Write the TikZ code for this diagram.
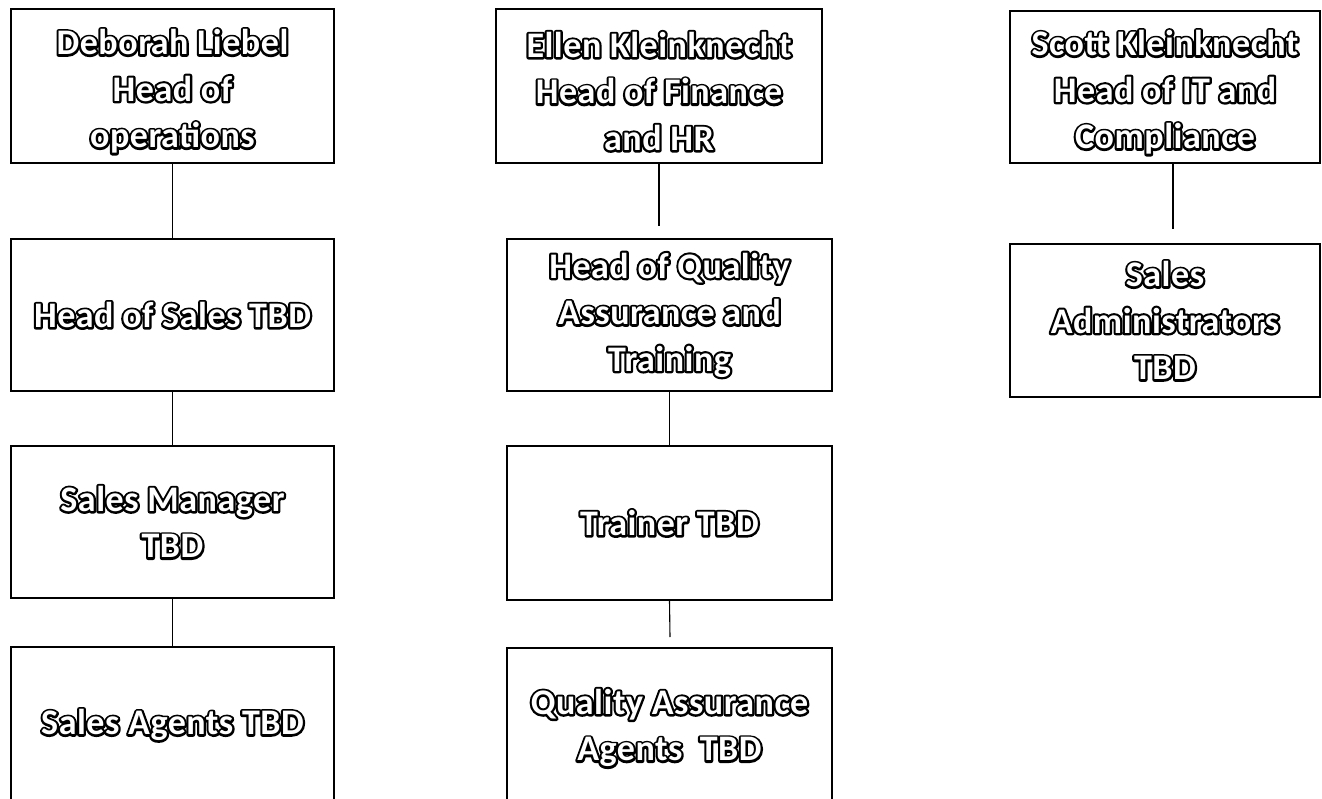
\documentclass[tikz,border=0pt]{standalone}
\usepackage{fontspec}
\setmainfont{Carlito}[LetterSpace=1.5]
\newcommand{\olt}[1]{\rlap{\special{pdf:literal direct 2 Tr 4.4 w 0 G 0 g 1 J 1 j}#1\special{pdf:literal direct 0 Tr 1 g 1 G}}#1}
\newcommand{\toppad}{\rule{0pt}{36pt}}
\tikzset{
  orgbox/.style={draw=black, line width=1.8pt, fill=white, inner sep=0pt, align=center,
    text=white, font=\bfseries\fontsize{36}{46.5}\selectfont},
  link/.style={draw=black, line width=1.1pt}
}
\begin{document}
\begin{tikzpicture}[x=1pt,y=-1pt]
\useasboundingbox (0,0) rectangle (1322,799);
\fill[white] (0,0) rectangle (1322,799);
\clip (0,0) rectangle (1322,799);
% column 1
\node[orgbox, minimum width=323pt, minimum height=154pt] (b1) at (172.5,86) {\toppad\olt{Deborah Liebel}\\\olt{Head of}\\\olt{operations}};
\node[orgbox, minimum width=323pt, minimum height=152pt] (b2) at (172.5,315) {\olt{Head of Sales TBD}};
\node[orgbox, minimum width=323pt, minimum height=152pt] (b3) at (172.5,522) {\olt{Sales Manager}\\\olt{TBD}};
\node[orgbox, minimum width=323pt, minimum height=156pt] (b4) at (172.5,725) {\olt{Sales Agents TBD}};
% column 2
\node[orgbox, minimum width=326pt, minimum height=154pt] (c1) at (659,86) {\toppad\olt{Ellen Kleinknecht}\\\olt{Head of Finance}\\\olt{and HR}};
\node[orgbox, minimum width=325pt, minimum height=152pt] (c2) at (669.5,315) {\olt{Head of Quality}\\\olt{Assurance and}\\\olt{Training}};
\node[orgbox, minimum width=325pt, minimum height=154pt] (c3) at (669.5,523) {\olt{Trainer TBD}};
\node[orgbox, minimum width=325pt, minimum height=160pt] (c4) at (669.5,728) {\olt{Quality Assurance}\\\olt{Agents~~TBD}};
% column 3
\node[orgbox, minimum width=310pt, minimum height=152pt] (d1) at (1165,87) {\toppad\olt{Scott Kleinknecht}\\\olt{Head of IT and}\\\olt{Compliance}};
\node[orgbox, minimum width=310pt, minimum height=153pt] (d2) at (1165,320.5) {\olt{Sales}\\\olt{Administrators}\\\olt{TBD}};
% free ends
\coordinate (c1end) at (659,226);
\coordinate (c3end) at (670,637);
\coordinate (d1start) at (1173,163);
\coordinate (d1end) at (1173,229);
% connectors
\draw[link] (b1.south) -- (b2.north);
\draw[link] (b2.south) -- (b3.north);
\draw[link] (b3.south) -- (b4.north);
\draw[link] (c1.south) -- (c1end);
\draw[link] (c2.south) -- (c3.north);
\draw[link] (c3.south) -- (c3end);
\draw[link] (d1start) -- (d1end);
\end{tikzpicture}
\end{document}
